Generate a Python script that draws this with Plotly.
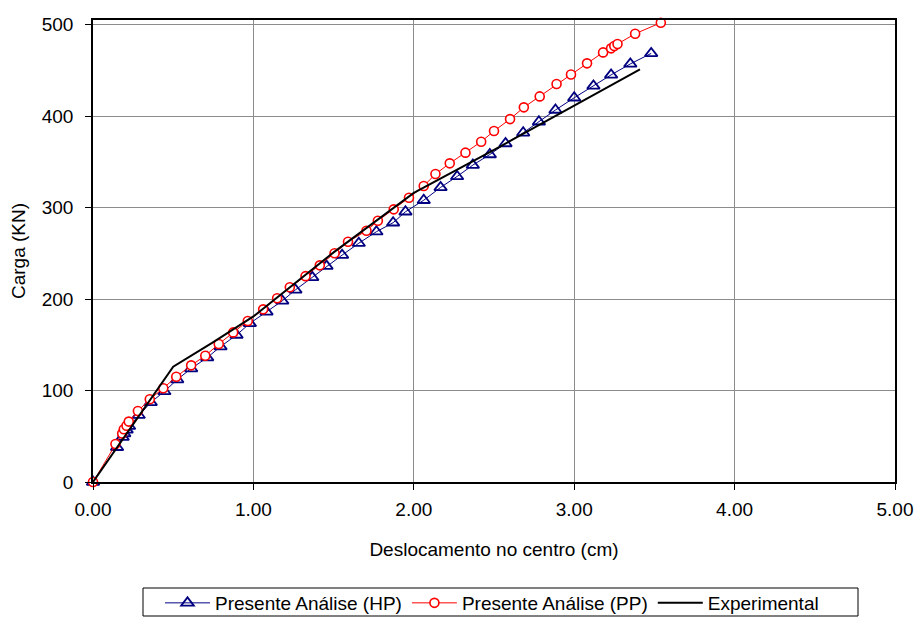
import plotly.graph_objects as go

# Presente Análise (HP) - blue triangles
hp_x = [0, 0.15, 0.185, 0.195, 0.21, 0.225, 0.285, 0.36, 0.445, 0.525, 0.612, 0.712,
        0.795, 0.895, 0.978, 1.082, 1.18, 1.262, 1.367, 1.456, 1.553, 1.657, 1.767,
        1.871, 1.948, 2.062, 2.167, 2.27, 2.368, 2.474, 2.572, 2.682, 2.78, 2.883,
        3.0, 3.12, 3.23, 3.35, 3.48]
hp_y = [0, 38, 49, 53, 57, 61, 73, 87, 99, 112, 124, 136,
        148, 160.7, 173.4, 186, 198, 210, 223.7, 236, 248, 261, 273.6,
        283.4, 295.4, 308, 322, 334, 346.4, 358, 370, 381.7, 393.8, 406.6,
        420, 433, 445, 457, 468.5]

# Presente Análise (PP) - red circles
pp_x = [0, 0.14, 0.182, 0.192, 0.209, 0.223, 0.28, 0.354, 0.438, 0.519, 0.612, 0.70,
        0.784, 0.874, 0.965, 1.061, 1.148, 1.227, 1.325, 1.414, 1.506, 1.59, 1.705,
        1.776, 1.875, 1.97, 2.062, 2.135, 2.224, 2.322, 2.42, 2.5, 2.6, 2.686, 2.785,
        2.89, 2.98, 3.08, 3.18, 3.23, 3.25, 3.27, 3.38, 3.54]
pp_y = [0, 41.5, 53, 57.6, 61.5, 66, 77.6, 90.4, 102.4, 115, 127.5, 138,
        150.8, 163.5, 176, 188.7, 200.8, 212.8, 225, 236.8, 250, 262.6, 274.6,
        285.6, 298, 310.7, 323.5, 336.6, 348.3, 360, 372, 383.6, 396.7, 409.5, 421.5,
        435, 445.5, 457.6, 469.6, 474, 476.5, 478.7, 490, 502]

# Experimental - black line
ex_x = [0, 0.5, 0.75, 1.0, 1.5, 2.0, 2.5, 3.0, 3.41]
ex_y = [0, 126, 153, 181, 251, 316, 363, 411, 451]

x_ticks = [0, 1, 2, 3, 4, 5]
y_ticks = [0, 100, 200, 300, 400, 500]

FONT = "Liberation Sans, Arial, sans-serif"
FS = 19

fig = go.Figure()
fig.add_trace(go.Scatter(
    x=hp_x, y=hp_y, mode="lines+markers", name="Presente Análise (HP)",
    line=dict(color="#000080", width=1),
    marker=dict(symbol="triangle-up-open", size=11, color="#000080",
                line=dict(width=1.8, color="#000080")),
    cliponaxis=False))
fig.add_trace(go.Scatter(
    x=pp_x, y=pp_y, mode="lines+markers", name="Presente Análise (PP)",
    line=dict(color="#FF0000", width=1),
    marker=dict(symbol="circle", size=9, color="white",
                line=dict(width=1.6, color="#FF0000")),
    cliponaxis=False))
fig.add_trace(go.Scatter(
    x=ex_x, y=ex_y, mode="lines", name="Experimental",
    line=dict(color="black", width=2), cliponaxis=False))

# plot area: x 93..895 px, y 20..482 px
PW, PH = 802.0, 462.0
def px_to_paper_x(px):
    return (px - 93) / PW
def px_to_paper_y(py):
    return (482 - py) / PH

fig.update_layout(
    width=915, height=618,
    margin=dict(l=93, r=20, t=20, b=136, autoexpand=False),
    paper_bgcolor="white", plot_bgcolor="white",
    font=dict(family=FONT, size=FS, color="black"),
    showlegend=True,
    legend=dict(orientation="h", x=px_to_paper_x(492), xanchor="center",
                y=px_to_paper_y(603), yanchor="middle",
                borderwidth=0, bgcolor="rgba(0,0,0,0)",
                font=dict(family=FONT, size=FS, color="black"),
                itemwidth=45, tracegroupgap=0),
    shapes=[dict(type="rect", xref="paper", yref="paper",
                 x0=px_to_paper_x(143), x1=px_to_paper_x(858),
                 y0=px_to_paper_y(616), y1=px_to_paper_y(588),
                 line=dict(color="black", width=1), fillcolor="rgba(0,0,0,0)",
                 layer="above")],
)
fig.update_xaxes(
    range=[0, 5], tickvals=x_ticks, tickformat=".2f", automargin=False,
    showline=True, linecolor="black", linewidth=1.5, mirror=True,
    showgrid=True, gridcolor="#8c8c8c", gridwidth=1,
    ticks="outside", ticklen=6, tickcolor="black",
    ticklabelstandoff=3, zeroline=False,
    title=dict(text="Deslocamento no centro (cm)", font=dict(size=FS), standoff=24),
)
fig.update_yaxes(
    range=[0, 505], tickvals=y_ticks, automargin=False,
    showline=True, linecolor="black", linewidth=1.5, mirror=True,
    showgrid=True, gridcolor="#8c8c8c", gridwidth=1,
    ticks="outside", ticklen=6, tickcolor="black",
    ticklabelstandoff=8, zeroline=False,
    title=dict(text="Carga (KN)", font=dict(size=FS), standoff=11),
)

fig.write_html("out.html")
